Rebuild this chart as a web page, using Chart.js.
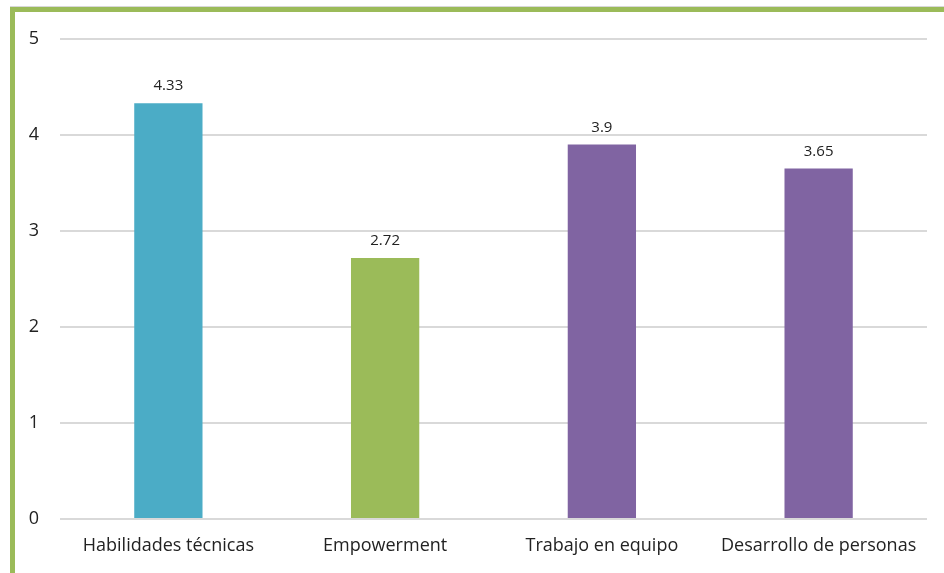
<!DOCTYPE html>
<html>
<head>
<meta charset="utf-8">
<script src="https://cdn.jsdelivr.net/npm/chart.js@4"></script>
<style>
  body { margin: 0; background: #fff; }
  #wrap { position: relative; width: 944px; height: 573px; }
  #frame { position: absolute; left: 10px; top: 7px; right: -10px; bottom: -10px;
           border-left: 5px solid #9BBB59; border-top: 5px solid #9BBB59;
           box-shadow: 0 -1px 0 #d8d8d8; }
  canvas { position: absolute; left: 0; top: 0; }
</style>
</head>
<body>
<div id="wrap">
  <div id="frame"></div>
  <canvas id="chart" width="944" height="573"></canvas>
</div>
<script>
// data
const categories = ["Habilidades técnicas", "Empowerment", "Trabajo en equipo", "Desarrollo de personas"];
const scores = [4.33, 2.72, 3.9, 3.65];
const barColors = ["#4BACC6", "#9BBB59", "#8064A2", "#8064A2"];
const yTicks = [0, 1, 2, 3, 4, 5];

const fontFamily = "'Open Sans', sans-serif";

// draw value labels above each bar
const valueLabels = {
  id: "valueLabels",
  afterDatasetsDraw(chart) {
    const ctx = chart.ctx;
    const meta = chart.getDatasetMeta(0);
    ctx.save();
    ctx.font = "15px " + fontFamily;
    ctx.fillStyle = "#222";
    ctx.textAlign = "center";
    ctx.textBaseline = "alphabetic";
    meta.data.forEach((bar, i) => {
      ctx.fillText(String(scores[i]), bar.x, bar.y - 13);
    });
    ctx.restore();
  }
};

new Chart(document.getElementById("chart"), {
  type: "bar",
  data: {
    labels: categories,
    datasets: [{
      data: scores,
      backgroundColor: barColors,
      borderWidth: 0,
      categoryPercentage: 1,
      barPercentage: 0.315
    }]
  },
  options: {
    responsive: false,
    animation: false,
    layout: { padding: { left: 0, right: 17, top: 39, bottom: 0 } },
    plugins: { legend: { display: false }, tooltip: { enabled: false } },
    scales: {
      x: {
        grid: { display: false, drawTicks: false },
        border: { display: false },
        ticks: { color: "#222", font: { family: fontFamily, size: 18 }, padding: 16 },
        afterFit(scale) { scale.height = 54; }
      },
      y: {
        min: 0,
        max: 5,
        afterBuildTicks(scale) { scale.ticks = yTicks.map(v => ({ value: v })); },
        grid: { color: "#d9d9d9", lineWidth: 2, drawTicks: false },
        border: { display: false },
        ticks: { color: "#222", font: { family: fontFamily, size: 18 }, padding: 21 },
        afterFit(scale) { scale.width = 60; }
      }
    }
  },
  plugins: [valueLabels]
});
</script>
</body>
</html>
